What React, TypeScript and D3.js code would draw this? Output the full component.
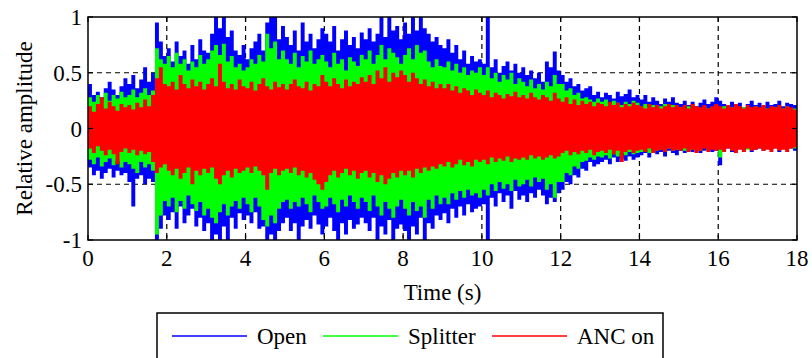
import React from "react";
import * as d3 from "d3";

// Envelope of each recorded signal, sampled every 0.1 s (bin start times 0.0 … 17.9 s)
const TIME_STEP = 0.1;

const openUpper = [
  0.40,0.30,0.33,0.28,0.36,0.42,0.35,0.30,0.38,0.45,
  0.40,0.48,0.36,0.44,0.55,0.42,0.50,0.95,0.78,0.65,
  0.72,0.60,0.78,0.65,0.70,0.58,0.75,0.62,0.80,0.70,
  0.68,0.85,1.00,0.90,1.00,0.82,0.88,0.70,0.66,0.75,
  0.62,0.72,0.78,0.85,0.70,0.95,1.00,1.00,0.80,0.92,
  0.82,0.75,0.88,0.70,0.95,0.78,0.85,0.72,0.80,0.90,
  0.85,0.78,0.92,0.70,0.80,0.88,0.75,0.82,0.72,0.86,
  0.80,0.90,0.78,0.85,1.00,0.82,1.00,0.88,0.92,0.80,
  0.95,0.85,1.00,0.88,1.00,0.90,0.85,0.78,0.82,0.75,
  0.72,0.80,0.68,0.75,0.62,0.70,0.58,0.65,0.60,0.62,
  0.58,1.00,0.55,0.62,0.50,0.56,0.60,0.52,0.58,0.50,
  0.55,0.48,0.52,0.45,0.50,0.42,0.60,0.55,0.69,0.52,
  0.48,0.42,0.45,0.38,0.40,0.34,0.36,0.38,0.30,0.33,
  0.28,0.32,0.30,0.27,0.33,0.29,0.31,0.35,0.28,0.30,
  0.26,0.30,0.24,0.28,0.25,0.22,0.27,0.24,0.28,0.23,
  0.22,0.25,0.21,0.24,0.20,0.23,0.26,0.22,0.24,0.28,
  0.25,0.22,0.20,0.24,0.21,0.23,0.19,0.22,0.25,0.21,
  0.23,0.20,0.24,0.21,0.22,0.25,0.20,0.23,0.22,0.21,
];
const openLower = [
  -0.35,-0.42,-0.38,-0.45,-0.40,-0.36,-0.44,-0.38,-0.42,-0.40,
  -0.48,-0.70,-0.45,-0.42,-0.50,-0.45,-0.48,-1.00,-0.90,-0.78,
  -0.82,-0.75,-0.90,-0.70,-0.85,-0.78,-0.72,-0.88,-0.80,-0.92,
  -0.85,-1.00,-0.95,-1.00,-0.88,-1.00,-0.80,-0.90,-0.76,-0.82,
  -0.78,-0.85,-0.75,-0.90,-0.88,-1.00,-0.95,-1.00,-0.92,-0.85,
  -0.80,-0.92,-0.85,-1.00,-0.88,-0.82,-0.90,-0.78,-0.86,-0.95,
  -0.88,-0.80,-0.92,-1.00,-0.85,-0.95,-0.82,-0.90,-0.86,-0.80,
  -0.85,-0.92,-0.80,-1.00,-0.88,-0.95,-0.82,-1.00,-0.90,-0.86,
  -0.92,-1.00,-0.88,-0.95,-0.80,-1.00,-0.85,-0.90,-0.78,-0.82,
  -0.76,-0.85,-0.72,-0.80,-0.70,-0.78,-0.68,-0.75,-0.72,-0.70,
  -0.68,-1.00,-0.62,-0.70,-0.58,-0.66,-0.60,-0.72,-0.56,-0.64,
  -0.60,-0.66,-0.58,-0.62,-0.55,-0.60,-0.68,-0.62,-0.66,-0.58,
  -0.55,-0.48,-0.50,-0.42,-0.44,-0.36,-0.38,-0.30,-0.34,-0.32,
  -0.30,-0.28,-0.32,-0.26,-0.30,-0.27,-0.29,-0.25,-0.28,-0.26,
  -0.24,-0.22,-0.26,-0.20,-0.23,-0.21,-0.25,-0.20,-0.22,-0.24,
  -0.20,-0.22,-0.19,-0.21,-0.18,-0.22,-0.20,-0.19,-0.21,-0.20,
  -0.33,-0.20,-0.18,-0.21,-0.19,-0.17,-0.20,-0.18,-0.21,-0.19,
  -0.18,-0.20,-0.17,-0.19,-0.18,-0.21,-0.17,-0.19,-0.18,-0.20,
];
const splitterUpper = [
  0.28,0.24,0.30,0.26,0.32,0.25,0.30,0.27,0.33,0.28,
  0.30,0.35,0.28,0.32,0.36,0.30,0.34,0.72,0.62,0.58,
  0.65,0.55,0.68,0.58,0.62,0.52,0.60,0.55,0.66,0.58,
  0.62,0.70,0.75,0.66,0.76,0.60,0.65,0.55,0.58,0.52,
  0.55,0.62,0.58,0.66,0.60,0.85,0.72,0.78,0.62,0.70,
  0.62,0.58,0.68,0.55,0.65,0.60,0.70,0.58,0.62,0.66,
  0.60,0.55,0.68,0.58,0.62,0.52,0.64,0.60,0.56,0.66,
  0.62,0.70,0.58,0.66,0.75,0.62,0.72,0.68,0.64,0.58,
  0.66,0.72,0.62,0.75,0.68,0.70,0.60,0.55,0.62,0.56,
  0.55,0.60,0.52,0.58,0.50,0.55,0.48,0.52,0.50,0.55,
  0.48,0.55,0.45,0.50,0.42,0.48,0.44,0.50,0.40,0.45,
  0.42,0.38,0.44,0.36,0.40,0.35,0.42,0.38,0.48,0.40,
  0.40,0.34,0.36,0.30,0.32,0.27,0.28,0.26,0.24,0.27,
  0.24,0.26,0.22,0.25,0.23,0.21,0.24,0.22,0.25,0.23,
  0.20,0.22,0.19,0.21,0.18,0.20,0.22,0.19,0.21,0.18,
  0.19,0.17,0.20,0.18,0.19,0.17,0.20,0.18,0.19,0.21,
  0.18,0.20,0.17,0.19,0.18,0.16,0.19,0.17,0.18,0.20,
  0.17,0.19,0.18,0.16,0.19,0.17,0.18,0.20,0.17,0.18,
];
const splitterLower = [
  -0.28,-0.32,-0.26,-0.34,-0.30,-0.27,-0.33,-0.29,-0.35,-0.30,
  -0.32,-0.36,-0.40,-0.30,-0.35,-0.32,-0.38,-0.95,-0.78,-0.65,
  -0.70,-0.62,-0.75,-0.65,-0.72,-0.60,-0.68,-0.74,-0.66,-0.78,
  -0.72,-0.80,-0.85,-0.75,-0.68,-0.78,-0.70,-0.65,-0.72,-0.62,
  -0.68,-0.75,-0.62,-0.70,-0.82,-0.88,-0.78,-0.85,-0.72,-0.66,
  -0.64,-0.72,-0.66,-0.70,-0.62,-0.68,-0.75,-0.60,-0.66,-0.72,
  -0.70,-0.62,-0.68,-0.75,-0.64,-0.70,-0.60,-0.66,-0.72,-0.62,
  -0.66,-0.74,-0.60,-0.70,-0.78,-0.66,-0.72,-0.80,-0.70,-0.64,
  -0.72,-0.78,-0.66,-0.74,-0.70,-0.80,-0.64,-0.72,-0.60,-0.68,
  -0.62,-0.68,-0.58,-0.64,-0.56,-0.62,-0.55,-0.60,-0.58,-0.62,
  -0.55,-0.60,-0.50,-0.56,-0.48,-0.54,-0.50,-0.56,-0.46,-0.52,
  -0.50,-0.46,-0.52,-0.44,-0.48,-0.45,-0.55,-0.50,-0.62,-0.48,
  -0.48,-0.40,-0.42,-0.34,-0.36,-0.30,-0.29,-0.26,-0.28,-0.25,
  -0.26,-0.24,-0.27,-0.23,-0.25,-0.22,-0.24,-0.21,-0.23,-0.22,
  -0.21,-0.19,-0.22,-0.18,-0.20,-0.19,-0.21,-0.18,-0.20,-0.19,
  -0.18,-0.20,-0.17,-0.19,-0.18,-0.20,-0.17,-0.19,-0.18,-0.17,
  -0.26,-0.18,-0.17,-0.19,-0.16,-0.18,-0.17,-0.19,-0.16,-0.18,
  -0.17,-0.18,-0.16,-0.18,-0.17,-0.19,-0.16,-0.18,-0.17,-0.18,
];
const ancUpper = [
  0.20,0.15,0.22,0.28,0.18,0.24,0.20,0.16,0.22,0.19,
  0.21,0.17,0.23,0.19,0.26,0.20,0.30,0.45,0.55,0.40,
  0.38,0.42,0.35,0.48,0.40,0.36,0.44,0.38,0.42,0.35,
  0.40,0.45,0.38,0.58,0.42,0.36,0.40,0.35,0.44,0.38,
  0.36,0.42,0.34,0.40,0.45,0.38,0.35,0.42,0.37,0.40,
  0.35,0.40,0.44,0.38,0.36,0.42,0.34,0.40,0.38,0.48,
  0.42,0.38,0.45,0.40,0.36,0.44,0.38,0.42,0.40,0.46,
  0.42,0.48,0.40,0.52,0.45,0.55,0.42,0.50,0.46,0.52,
  0.48,0.42,0.50,0.45,0.40,0.44,0.38,0.42,0.36,0.40,
  0.36,0.40,0.34,0.38,0.32,0.36,0.34,0.30,0.35,0.32,
  0.30,0.34,0.28,0.32,0.30,0.27,0.31,0.29,0.33,0.28,
  0.30,0.27,0.32,0.28,0.26,0.30,0.28,0.25,0.32,0.27,
  0.24,0.28,0.22,0.26,0.21,0.25,0.22,0.24,0.20,0.23,
  0.22,0.20,0.24,0.21,0.23,0.19,0.22,0.20,0.23,0.21,
  0.20,0.18,0.22,0.19,0.21,0.18,0.20,0.22,0.19,0.21,
  0.19,0.21,0.18,0.22,0.20,0.19,0.21,0.18,0.20,0.22,
  0.20,0.18,0.21,0.19,0.22,0.20,0.18,0.21,0.19,0.20,
  0.19,0.21,0.18,0.20,0.19,0.21,0.18,0.20,0.19,0.17,
];
const ancLower = [
  -0.18,-0.22,-0.16,-0.20,-0.24,-0.19,-0.23,-0.32,-0.21,-0.18,
  -0.22,-0.19,-0.24,-0.20,-0.23,-0.21,-0.30,-0.40,-0.35,-0.32,
  -0.38,-0.42,-0.36,-0.45,-0.40,-0.35,-0.50,-0.38,-0.42,-0.36,
  -0.40,-0.35,-0.45,-0.50,-0.42,-0.38,-0.44,-0.36,-0.40,-0.38,
  -0.35,-0.40,-0.34,-0.38,-0.42,-0.55,-0.40,-0.36,-0.42,-0.38,
  -0.36,-0.40,-0.35,-0.42,-0.38,-0.44,-0.40,-0.46,-0.50,-0.55,
  -0.48,-0.42,-0.38,-0.44,-0.40,-0.36,-0.42,-0.38,-0.45,-0.40,
  -0.38,-0.44,-0.40,-0.48,-0.42,-0.50,-0.45,-0.40,-0.44,-0.38,
  -0.42,-0.38,-0.44,-0.36,-0.40,-0.35,-0.38,-0.34,-0.36,-0.32,
  -0.34,-0.30,-0.35,-0.32,-0.28,-0.33,-0.30,-0.34,-0.28,-0.30,
  -0.28,-0.32,-0.26,-0.30,-0.27,-0.29,-0.25,-0.30,-0.27,-0.28,
  -0.26,-0.28,-0.24,-0.27,-0.25,-0.28,-0.26,-0.24,-0.27,-0.25,
  -0.22,-0.20,-0.24,-0.21,-0.23,-0.20,-0.22,-0.19,-0.24,-0.21,
  -0.20,-0.22,-0.19,-0.23,-0.20,-0.30,-0.21,-0.19,-0.22,-0.20,
  -0.19,-0.21,-0.18,-0.22,-0.20,-0.19,-0.21,-0.18,-0.20,-0.19,
  -0.20,-0.18,-0.21,-0.19,-0.22,-0.20,-0.18,-0.21,-0.19,-0.20,
  -0.19,-0.21,-0.18,-0.20,-0.22,-0.19,-0.21,-0.18,-0.20,-0.19,
  -0.18,-0.20,-0.19,-0.21,-0.18,-0.20,-0.19,-0.21,-0.18,-0.17,
];

const seriesNames = ["Open", "Splitter", "ANC on"];
const seriesColors = ["#0000ff", "#00ff00", "#ff0000"];
const xTicks = [0, 2, 4, 6, 8, 10, 12, 14, 16, 18];
const yTicks = [-1, -0.5, 0, 0.5, 1];
const xGrid = [2, 4, 6, 8, 10, 12, 14, 16];
const yGrid = [-0.5, 0.5];

const W = 812, H = 358;
const M = { left: 88, right: 797, top: 17, bottom: 240 };
const FONT = "'Liberation Serif', 'Times New Roman', serif";
const textStyle: React.CSSProperties = { fontFamily: FONT, fontSize: 23 };

export default function App() {
  const x = d3.scaleLinear().domain([0, 18]).range([M.left, M.right]);
  const y = d3.scaleLinear().domain([-1, 1]).range([M.bottom, M.top]);

  const series = [
    { up: openUpper, lo: openLower },
    { up: splitterUpper, lo: splitterLower },
    { up: ancUpper, lo: ancLower },
  ];

  const makePath = (up: number[], lo: number[]) => {
    const a = d3
      .area<[number, number]>()
      .curve(d3.curveStepAfter)
      .x((_, i) => x(Math.min(i * TIME_STEP, 18)))
      .y0((d) => y(d[1]))
      .y1((d) => y(d[0]));
    const pts: [number, number][] = up.map((u, i) => [u, lo[i]]);
    pts.push([up[up.length - 1], lo[lo.length - 1]]);
    return a(pts) || "";
  };

  const fmt = (v: number) => (v === 0 ? "0" : String(v));

  const legendTop = 313;
  const legendY = 336;
  const legendItems = [
    { x1: 172, x2: 247, tx: 257 },
    { x1: 323, x2: 398, tx: 408 },
    { x1: 492, x2: 567, tx: 577 },
  ];
  const TL = 5;

  return (
    <svg
      width={W}
      height={H}
      style={{ position: "absolute", left: 0, top: 0, background: "#fff" }}
    >
      <defs>
        <clipPath id="plotclip">
          <rect x={M.left} y={M.top} width={M.right - M.left} height={M.bottom - M.top} />
        </clipPath>
      </defs>
      <rect x={0} y={0} width={W} height={H} fill="#fff" />
      <g stroke="#000" strokeWidth={1.2} strokeDasharray="5,4">
        {xGrid.map((t) => (
          <line key={"gx" + t} x1={x(t)} x2={x(t)} y1={M.top} y2={M.bottom} />
        ))}
        {yGrid.map((v) => (
          <line key={"gy" + v} x1={M.left} x2={M.right} y1={y(v)} y2={y(v)} />
        ))}
      </g>
      <g clipPath="url(#plotclip)">
        {series.map((s, i) => (
          <path key={seriesNames[i]} d={makePath(s.up, s.lo)} fill={seriesColors[i]} stroke="none" />
        ))}
      </g>
      <g stroke="#000" strokeWidth={1.2}>
        {xTicks.map((t) => (
          <g key={"xtk" + t}>
            <line x1={x(t)} x2={x(t)} y1={M.bottom} y2={M.bottom - TL} />
            <line x1={x(t)} x2={x(t)} y1={M.top} y2={M.top + TL} />
          </g>
        ))}
        {yTicks.map((v) => (
          <g key={"ytk" + v}>
            <line x1={M.left} x2={M.left + TL} y1={y(v)} y2={y(v)} />
            <line x1={M.right} x2={M.right - TL} y1={y(v)} y2={y(v)} />
          </g>
        ))}
      </g>
      <rect
        x={M.left}
        y={M.top}
        width={M.right - M.left}
        height={M.bottom - M.top}
        fill="none"
        stroke="#000"
        strokeWidth={1.5}
      />
      {yTicks.map((v) => (
        <text key={"yt" + v} x={M.left - 6} y={y(v)} dy="0.35em" textAnchor="end" style={textStyle}>
          {fmt(v)}
        </text>
      ))}
      {xTicks.map((t) => (
        <text key={"xt" + t} x={x(t)} y={M.bottom + 26} textAnchor="middle" style={textStyle}>
          {fmt(t)}
        </text>
      ))}
      <text x={(M.left + M.right) / 2} y={300} textAnchor="middle" style={textStyle}>
        Time (s)
      </text>
      <text
        transform={`translate(32, ${(M.top + M.bottom) / 2}) rotate(-90)`}
        textAnchor="middle"
        style={textStyle}
      >
        Relative amplitude
      </text>
      <rect x={157} y={legendTop} width={506} height={60} fill="#fff" stroke="#000" strokeWidth={1.5} />
      {legendItems.map((it, i) => (
        <g key={"lg" + i}>
          <line x1={it.x1} x2={it.x2} y1={legendY} y2={legendY} stroke={seriesColors[i]} strokeWidth={1.5} />
          <text x={it.tx} y={legendY} dy="0.35em" style={textStyle}>
            {seriesNames[i]}
          </text>
        </g>
      ))}
    </svg>
  );
}
